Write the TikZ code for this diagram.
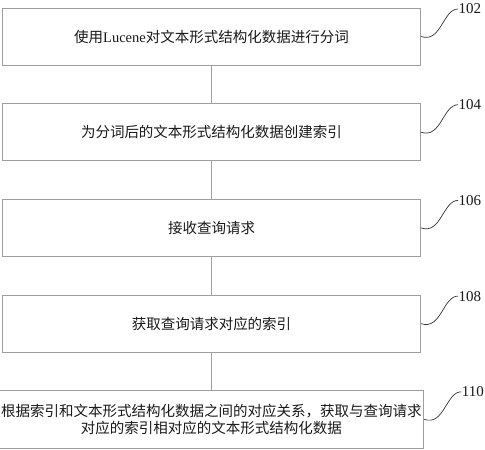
\documentclass[tikz,border=0pt]{standalone}
\usepackage{fontspec}
\setmainfont{Liberation Serif}
\newfontfamily\cjk{Noto Sans CJK SC}
\usepackage{tikz}
\usetikzlibrary{positioning}
\definecolor{framegray}{gray}{0.62}
\tikzset{
  box/.style={draw=framegray, line width=0.8pt, align=center, minimum width=418.2pt, minimum height=57.2pt, inner sep=2pt, text=black!90, font=\fontsize{14.5}{17}\selectfont\cjk},
  numlabel/.style={anchor=west, inner sep=0.5pt, text=black!90, font=\fontsize{15}{15}\selectfont},
  line/.style={draw=framegray, line width=0.8pt},
  leader/.style={line width=0.7pt, black!80}
}

\begin{document}
\begin{tikzpicture}[node distance=37.7pt]
  \useasboundingbox (0pt,0pt) rectangle (485pt,-450pt);
  \node[box] (b1) at (211.5pt,-36.5pt) {使用{\rmfamily Lucene}对文本形式结构化数据进行分词};
  \node[box, below=of b1] (b2) {为分词后的文本形式结构化数据创建索引};
  \node[box, below=of b2] (b3) {接收查询请求};
  \node[box, below=of b3] (b4) {获取查询请求对应的索引};
  \node[box, below=of b4] (b5) {根据索引和文本形式结构化数据之间的对应关系，获取与查询请求\\对应的索引相对应的文本形式结构化数据};
  % step numbers
  \node[numlabel] (l102) at ([xshift=37pt,yshift=-1.5pt]b1.north east) {102};
  \node[numlabel] (l104) at ([xshift=37pt,yshift=-1.5pt]b2.north east) {104};
  \node[numlabel] (l106) at ([xshift=37pt,yshift=-1.5pt]b3.north east) {106};
  \node[numlabel] (l108) at ([xshift=37pt,yshift=-1.5pt]b4.north east) {108};
  \node[numlabel] (l110) at ([xshift=37pt,yshift=-1.5pt]b5.north east) {110};
  \draw[line] (b1) -- (b2);
  \draw[line] (b2) -- (b3);
  \draw[line] (b3) -- (b4);
  \draw[line] (b4) -- (b5);
  \draw[leader] (b1.east) .. controls +(20pt,-7pt) and +(-15pt,0pt) .. (l102.west);
  \draw[leader] (b2.east) .. controls +(20pt,-7pt) and +(-15pt,0pt) .. (l104.west);
  \draw[leader] (b3.east) .. controls +(20pt,-7pt) and +(-15pt,0pt) .. (l106.west);
  \draw[leader] (b4.east) .. controls +(20pt,-7pt) and +(-15pt,0pt) .. (l108.west);
  \draw[leader] (b5.east) .. controls +(20pt,-7pt) and +(-15pt,0pt) .. (l110.west);
\end{tikzpicture}
\end{document}
